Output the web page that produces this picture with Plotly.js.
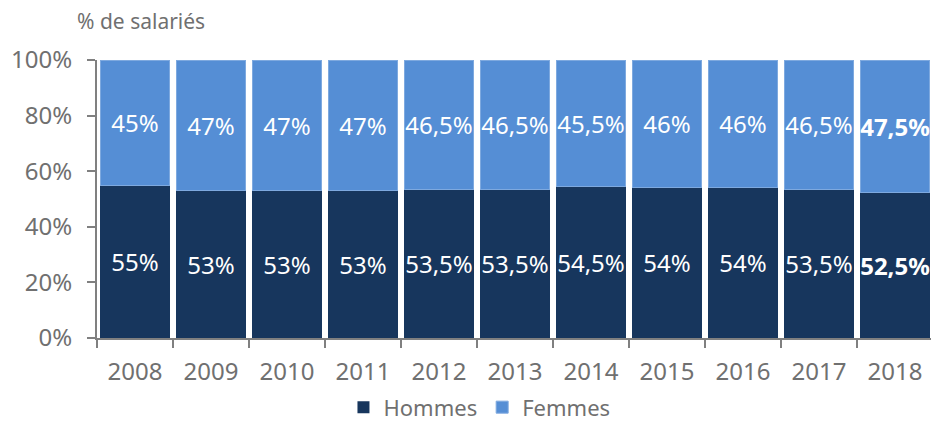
<!DOCTYPE html>
<html>
<head>
<meta charset="utf-8">
<script src="https://cdn.plot.ly/plotly-3.0.1.min.js"></script>
<style>html,body{margin:0;padding:0;background:#fff;overflow:hidden;}</style>
</head>
<body>
<div id="chart" style="width:931px;height:423px;"></div>
<script>
var years = ['2008','2009','2010','2011','2012','2013','2014','2015','2016','2017','2018'];
var hommes = [55, 53, 53, 53, 53.5, 53.5, 54.5, 54, 54, 53.5, 52.5];
var femmes = [45, 47, 47, 47, 46.5, 46.5, 45.5, 46, 46, 46.5, 47.5];
var yTickVals = [0, 20, 40, 60, 80, 100];
var yTickText = ['0%', '20%', '40%', '60%', '80%', '100%'];

function fmt(v, i, n) {
  var s = String(v).replace('.', ',') + '%';
  return i === n - 1 ? '<b>' + s + '</b>' : s;
}
var hText = hommes.map(function (v, i) { return fmt(v, i, hommes.length); });
var fText = femmes.map(function (v, i) { return fmt(v, i, femmes.length); });

var FONT = 'Noto Sans, Open Sans, sans-serif';
var GREY = '#707070';

var traces = [
  {
    type: 'bar', name: 'Hommes', x: years, y: hommes,
    text: hText, textposition: 'inside', insidetextanchor: 'middle',
    textangle: 0, constraintext: 'none',
    textfont: {family: FONT, size: 24, color: '#ffffff'},
    marker: {color: '#17365d', line: {width: 0}},
    hoverinfo: 'skip'
  },
  {
    type: 'bar', name: 'Femmes', x: years, y: femmes,
    text: fText, textposition: 'inside', insidetextanchor: 'middle',
    textangle: 0, constraintext: 'none',
    textfont: {family: FONT, size: 24, color: '#ffffff'},
    marker: {color: '#558ed5', line: {width: 1, color: '#7ea9df'}},
    hoverinfo: 'skip'
  }
];

var layout = {
  width: 931, height: 423,
  margin: {l: 97, r: 0, t: 60, b: 85, pad: 0},
  paper_bgcolor: '#ffffff', plot_bgcolor: '#ffffff',
  barmode: 'stack', bargap: 0.09,
  font: {family: FONT, color: GREY},
  showlegend: true,
  legend: {
    orientation: 'h', xref: 'container', yref: 'container',
    x: 0.515, xanchor: 'center', y: 0.037, yanchor: 'middle',
    font: {family: FONT, size: 22, color: GREY},
    itemwidth: 30, traceorder: 'normal'
  },
  xaxis: {
    type: 'category', range: [-0.5, 10.474],
    showline: true, linecolor: '#808080', linewidth: 2,
    ticks: 'outside', tickson: 'boundaries', ticklen: 8, tickwidth: 2, tickcolor: '#808080',
    ticklabelstandoff: 11,
    tickfont: {family: FONT, size: 24, color: GREY},
    showgrid: false, zeroline: false, fixedrange: true
  },
  yaxis: {
    range: [0, 100], tickvals: yTickVals, ticktext: yTickText,
    showline: true, linecolor: '#808080', linewidth: 2,
    ticks: 'outside', ticklen: 8, tickwidth: 2, tickcolor: '#808080',
    ticklabelstandoff: 10,
    tickfont: {family: FONT, size: 24, color: GREY},
    showgrid: false, zeroline: false, fixedrange: true
  },
  annotations: [{
    text: '% de salariés', xref: 'paper', yref: 'paper',
    x: -0.026, y: 1.14, xanchor: 'left', yanchor: 'middle', showarrow: false,
    font: {family: FONT, size: 21, color: GREY}
  }]
};

Plotly.newPlot('chart', traces, layout, {displayModeBar: false, staticPlot: true});
</script>
</body>
</html>
